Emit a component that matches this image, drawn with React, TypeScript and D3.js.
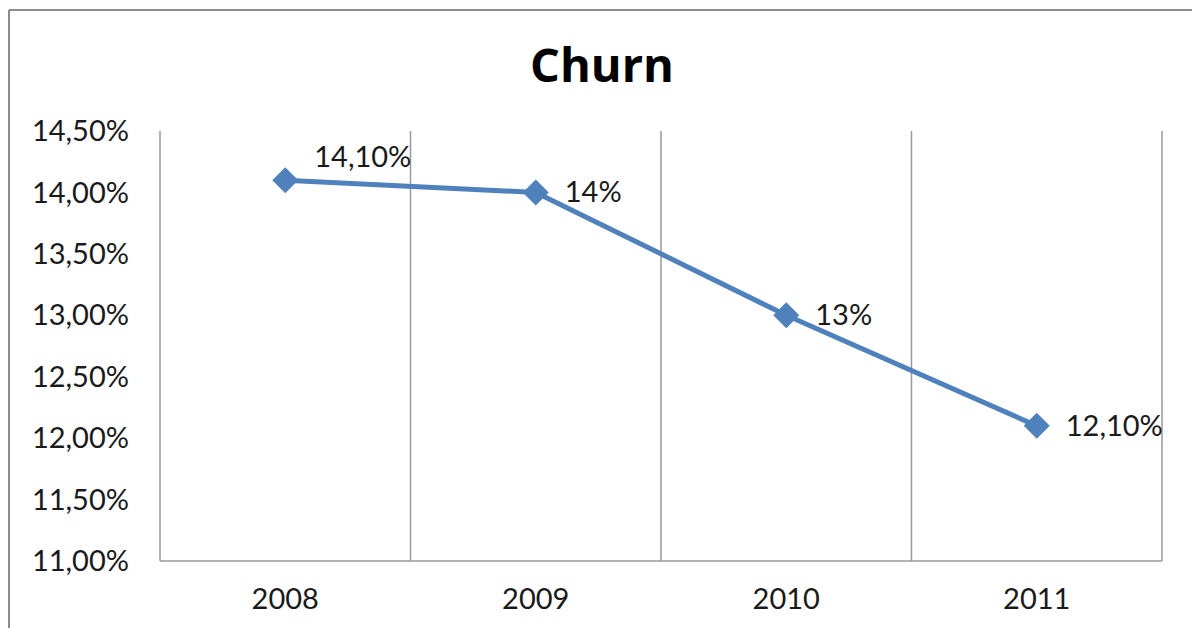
import React from "react";
import * as d3 from "d3";

const years = ["2008", "2009", "2010", "2011"];
const churn = [14.1, 14.0, 13.0, 12.1];
const valueLabels = ["14,10%", "14%", "13%", "12,10%"];
const yTicks = [11, 11.5, 12, 12.5, 13, 13.5, 14, 14.5];
const yTickLabels = ["11,00%", "11,50%", "12,00%", "12,50%", "13,00%", "13,50%", "14,00%", "14,50%"];
const title = "Churn";

const W = 1192;
const H = 628;
const left = 160;
const right = 1162;
const top = 131;
const bottom = 561;
const FONT = "Lato, 'Open Sans', sans-serif";
const TITLE_FONT = "'Open Sans', Lato, sans-serif";
const BLUE = "#4F81BD";
const GRID = "#9a9a9a";

export default function App() {
  const x = d3.scaleBand<string>().domain(years).range([left, right]).padding(0);
  const y = d3.scaleLinear().domain([11, 14.5]).range([bottom, top]);
  const cx = (i: number) => (x(years[i]) as number) + x.bandwidth() / 2;

  const line = d3
    .line<number>()
    .x((_, i) => cx(i))
    .y((d) => y(d));

  const diamondPath = "M0,-13L13,0L0,13L-13,0Z";
  const boundaries = years.map((yr) => x(yr) as number).concat([right]);

  return (
    <svg
      width={W}
      height={H}
      style={{ position: "absolute", left: 0, top: 0, background: "#fff" }}
    >
      <line x1={9} y1={10} x2={W + 5} y2={10} stroke="#8c8c8c" strokeWidth={2} />
      <line x1={9} y1={10} x2={9} y2={H + 5} stroke="#8c8c8c" strokeWidth={2} />

      <text
        x={602}
        y={82}
        textAnchor="middle"
        fontFamily={TITLE_FONT}
        fontWeight="bold"
        fontSize={47}
        fill="#000"
      >
        {title}
      </text>

      {boundaries.map((bx, i) => (
        <line key={i} x1={bx} x2={bx} y1={top} y2={bottom} stroke={GRID} strokeWidth={1.5} />
      ))}
      <line x1={left} x2={right} y1={bottom} y2={bottom} stroke={GRID} strokeWidth={1.5} />

      {yTicks.map((t, i) => (
        <text
          key={t}
          x={129}
          y={y(t)}
          dy="0.35em"
          textAnchor="end"
          fontFamily={FONT}
          fontSize={29}
          fill="#1a1a1a"
        >
          {yTickLabels[i]}
        </text>
      ))}

      {years.map((yr, i) => (
        <text
          key={yr}
          x={cx(i)}
          y={609}
          textAnchor="middle"
          fontFamily={FONT}
          fontSize={29}
          fill="#1a1a1a"
        >
          {yr}
        </text>
      ))}

      <path d={line(churn) || ""} fill="none" stroke={BLUE} strokeWidth={5} strokeLinejoin="round" />

      {churn.map((v, i) => (
        <path key={i} d={diamondPath} transform={`translate(${cx(i)},${y(v)})`} fill={BLUE} />
      ))}

      {churn.map((v, i) => (
        <text
          key={i}
          x={cx(i) + 29}
          y={y(v) + (i === 0 ? -13 : 10)}
          fontFamily={FONT}
          fontSize={29}
          fill="#1a1a1a"
        >
          {valueLabels[i]}
        </text>
      ))}
    </svg>
  );
}
